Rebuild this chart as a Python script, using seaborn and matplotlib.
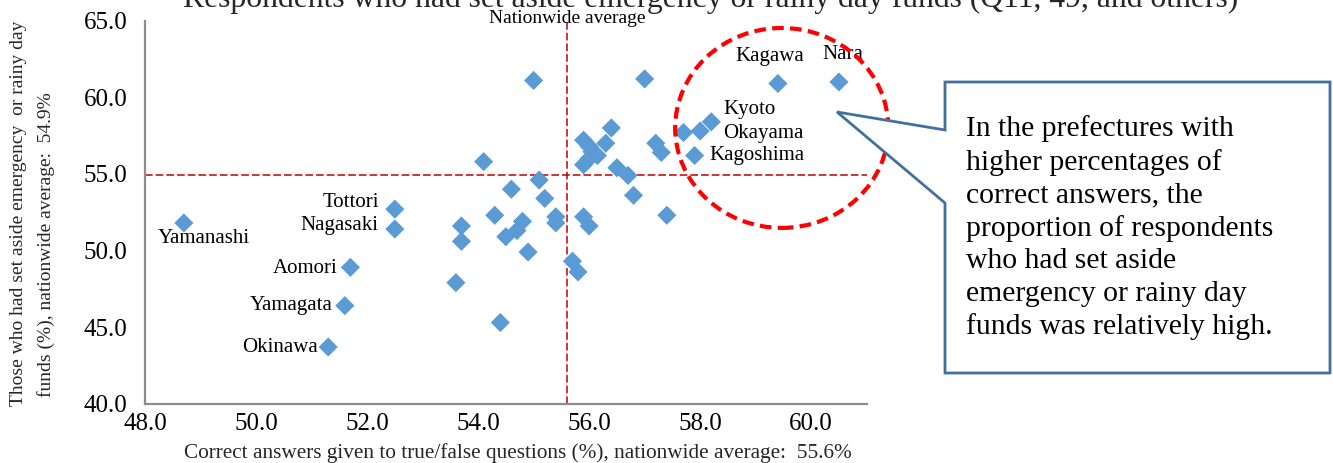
import matplotlib
matplotlib.use("Agg")
import matplotlib.pyplot as plt
from matplotlib.patches import Ellipse, Polygon
import seaborn as sns
import pandas as pd

# Prefecture-level results: share of correct true/false answers (%)
# and share of respondents with emergency / rainy day funds (%)
prefecture = ["Yamanashi", "Tottori", "Nagasaki", "Aomori", "Yamagata", "Okinawa",
              "Kagawa", "Nara", "Kyoto", "Okayama", "Kagoshima",
              "", "", "", "", "", "", "", "", "", "", "", "", "", "", "", "", "", "",
              "", "", "", "", "", "", "", "", "", "", "", "", "", "", "", "", "", ""]
correct_pct = [48.7, 52.5, 52.5, 51.7, 51.6, 51.3,
               59.4, 60.5, 58.2, 58.0, 57.9,
               57.7, 57.2, 57.3, 57.0, 57.4, 55.0, 54.1, 56.4, 55.9, 56.0,
               56.05, 56.15, 56.3, 55.9, 56.0, 56.5, 56.7, 56.8, 55.1, 54.6,
               55.2, 54.3, 54.8, 54.7, 54.5, 55.4, 55.4, 55.9, 56.0, 53.7,
               53.7, 54.9, 55.7, 55.8, 53.6, 54.4]
saved_pct = [51.8, 52.7, 51.4, 48.9, 46.4, 43.7,
             60.9, 61.0, 58.4, 57.8, 56.2,
             57.7, 57.0, 56.4, 61.2, 52.3, 61.1, 55.8, 58.0, 57.2, 56.8,
             56.45, 56.2, 57.0, 55.6, 56.0, 55.4, 54.9, 53.6, 54.6, 54.0,
             53.4, 52.3, 51.9, 51.3, 50.9, 52.2, 51.8, 52.2, 51.6, 51.6,
             50.6, 49.9, 49.3, 48.6, 47.9, 45.3]

avg_correct = 55.6
avg_saved = 54.9

x_ticks = [48.0, 50.0, 52.0, 54.0, 56.0, 58.0, 60.0]
y_ticks = [40.0, 45.0, 50.0, 55.0, 60.0, 65.0]

title = "Respondents who had set aside emergency or rainy day funds (Q11, 49, and others)"
x_title = "Correct answers given to true/false questions (%), nationwide average:  55.6%"
y_title_1 = "Those who had set aside emergency  or rainy day"
y_title_2 = "funds (%), nationwide average:  54.9%"
avg_label = "Nationwide average"
note = ("In the prefectures with\nhigher percentages of\ncorrect answers, the\n"
        "proportion of respondents\nwho had set aside\nemergency or rainy day\n"
        "funds was relatively high.")

df = pd.DataFrame({"prefecture": prefecture, "correct": correct_pct, "saved": saved_pct})

sns.set_theme(style="white")
plt.rcParams["font.family"] = ["Liberation Serif", "DejaVu Serif"]

W, H = 1333, 463
fig = plt.figure(figsize=(W / 100, H / 100), dpi=100)


def fx(px):
    return px / W


def fy(py):
    return 1 - py / H


ax = fig.add_axes([fx(145), fy(403.7), fx(866.7) - fx(145), fy(20.7) - fy(403.7)])

ax.axvline(avg_correct, color="#C00000", lw=1.1, ls=(0, (5, 2)), zorder=1)
ax.axhline(avg_saved, color="#C00000", lw=1.1, ls=(0, (5, 2)), zorder=1)

sns.scatterplot(data=df, x="correct", y="saved", marker="D", s=95,
                color="#5B9BD5", edgecolor="none", linewidth=0, ax=ax, zorder=3)

ax.set_xlim(48, 61)
ax.set_ylim(40, 65)
ax.set_xticks(x_ticks)
ax.set_yticks(y_ticks)
ax.set_xticklabels([f"{v:.1f}" for v in x_ticks])
ax.set_yticklabels([f"{v:.1f}" for v in y_ticks])
ax.set_xlabel("")
ax.set_ylabel("")
for side in ("top", "right"):
    ax.spines[side].set_visible(False)
for side in ("left", "bottom"):
    ax.spines[side].set_color("#8C8C8C")
    ax.spines[side].set_linewidth(1.6)
ax.tick_params(axis="both", which="major", direction="out", length=5, width=1.2,
               color="#8C8C8C", labelsize=18, labelcolor="black")
ax.tick_params(axis="y", pad=7.5)
ax.tick_params(axis="x", pad=2)

# Names next to selected prefectures (offsets in pixels)
label_pos = {
    "Yamanashi": (20, -16, "center"),
    "Tottori": (-16, 7, "right"),
    "Nagasaki": (-16, 4, "right"),
    "Aomori": (-13, -1, "right"),
    "Yamagata": (-12, 0, "right"),
    "Okinawa": (-10, 0, "right"),
    "Kagawa": (-8, 27, "center"),
    "Nara": (4, 27, "center"),
    "Kyoto": (12, 12, "left"),
    "Okayama": (23, -2, "left"),
    "Kagoshima": (15, 0, "left"),
}
for name, xv, yv in zip(prefecture, correct_pct, saved_pct):
    if name:
        dx, dy, ha = label_pos[name]
        ax.annotate(name, (xv, yv), xytext=(dx, dy), textcoords="offset pixels",
                    ha=ha, va="center", fontsize=15, color="black", zorder=4)

ax.annotate(avg_label, (avg_correct, 65), xytext=(0, 2), textcoords="offset pixels",
            ha="center", va="center", fontsize=14, color="black",
            annotation_clip=False)

ring = Ellipse((59.47, 58.0), 3.84, 13.05, fill=False, edgecolor="#FF0000",
               lw=3, ls=(0, (2.8, 1.5)), clip_on=False, zorder=5)
ax.add_patch(ring)

# Callout box with pointer
callout = [(945, 82), (1330, 82), (1330, 373), (945, 373), (945, 203),
           (837, 112), (945, 130)]
fig.patches.append(Polygon([(fx(x), fy(y)) for x, y in callout], closed=True,
                           transform=fig.transFigure, facecolor="white",
                           edgecolor="#41719C", lw=2, zorder=6))
fig.text(fx(966), fy(115), note, ha="left", va="top", fontsize=21.3,
         linespacing=1.32, color="black", zorder=7)

fig.text(fx(711), fy(7), title, ha="center", va="baseline", fontsize=22.8)
fig.text(fx(518), fy(453), x_title, ha="center", va="center", fontsize=15.3)
fig.text(fx(19), fy(213), y_title_1, ha="center", va="center", rotation=90, fontsize=14)
fig.text(fx(46), fy(245), y_title_2, ha="center", va="center", rotation=90, fontsize=14)

fig.savefig("out.png", dpi=100)
